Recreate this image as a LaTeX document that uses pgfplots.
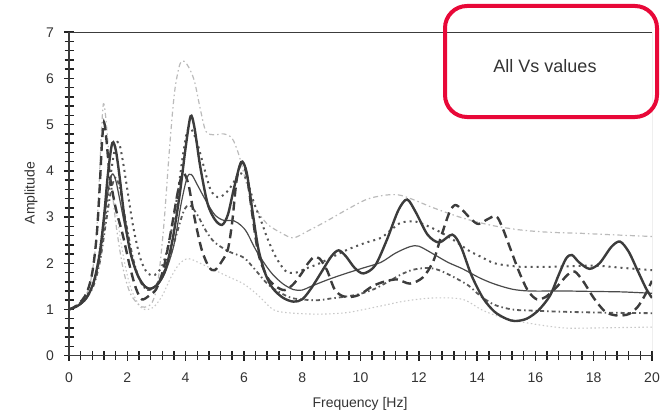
\documentclass[border=0pt]{standalone}
\usepackage{pgfplots}
\pgfplotsset{compat=1.18}
\usepackage{fontspec}
\setmainfont{Liberation Sans}
\definecolor{cthick}{HTML}{3C3C3C}
\definecolor{cthin}{HTML}{4A4A4A}
\definecolor{cdot}{HTML}{555555}
\definecolor{cdd}{HTML}{5A5A5A}
\definecolor{clight}{HTML}{BBBBBB}
\definecolor{clighter}{HTML}{C8C8C8}
\definecolor{cred}{RGB}{232,8,56}
\definecolor{ctext}{HTML}{333333}
\definecolor{ctick}{HTML}{222222}
\begin{document}
\begin{tikzpicture}
\useasboundingbox (0,0) rectangle (660pt,416pt);
\begin{axis}[
  at={(69pt,60.3pt)}, anchor=south west,
  scale only axis, width=583pt, height=323.5pt,
  xmin=0, xmax=20, ymin=0, ymax=7,
  axis x line*=bottom, axis y line*=left,
  axis line style={-, color=cthick, line width=1.3pt},
  xtick={0,2,...,20}, ytick={0,1,...,7},
  minor x tick num=4, minor y tick num=4,
  tick align=center,
  major tick length=10pt, minor tick length=9pt,
  every tick/.style={ctick, line width=1.5pt},
  /pgf/number format/assume math mode=true,
  ticklabel style={font=\fontsize{14}{14}\selectfont, text=ctext},
  xticklabel style={anchor=north, inner sep=0pt, yshift=-12pt},
  yticklabel style={anchor=east, inner sep=0pt, xshift=-10pt},
  every axis plot/.append style={smooth, tension=0.5, no marks},
]
% G: very light dotted
\addplot[clighter, line width=1.1pt, dash pattern=on 1.5pt off 2.5pt] coordinates {
(0,1.0)(0.5,1.2)(0.85,1.6)(1.1,2.6)(1.3,3.4)(1.45,3.6)(1.6,3.2)(1.85,2.2)(2.1,1.5)(2.4,1.1)(2.6,1.0)(2.9,1.05)(3.2,1.3)(3.5,1.7)(3.8,2.0)(4.1,2.1)(4.5,2.0)(5.0,1.85)(5.5,1.7)(6.0,1.55)(6.5,1.3)(7.0,1.0)(7.5,0.93)(8.5,0.9)(9.5,0.93)(10.5,1.05)(11.5,1.18)(12.5,1.25)(13.5,1.22)(14.2,0.98)(15.0,0.8)(16.0,0.68)(17.0,0.6)(18.0,0.6)(20,0.62)};
% F: light dash-dot, high peaks
\addplot[clight, line width=1.2pt, dash pattern=on 5pt off 3pt on 1.5pt off 3pt] coordinates {
(0,1.0)(0.4,1.15)(0.7,1.5)(0.9,2.3)(1.02,3.5)(1.1,4.7)(1.18,5.45)(1.27,5.1)(1.4,4.1)(1.6,2.9)(1.85,1.9)(2.1,1.35)(2.4,1.1)(2.6,1.05)(2.85,1.15)(3.05,1.6)(3.25,2.8)(3.45,4.5)(3.62,5.7)(3.8,6.3)(3.95,6.37)(4.1,6.25)(4.3,5.95)(4.5,5.35)(4.7,4.85)(5.0,4.78)(5.3,4.8)(5.6,4.7)(5.85,4.3)(6.1,3.7)(6.4,3.2)(6.8,2.85)(7.3,2.65)(7.7,2.55)(8.2,2.7)(8.8,2.9)(9.5,3.15)(10.2,3.38)(10.8,3.47)(11.3,3.48)(11.8,3.38)(12.5,3.2)(13.5,2.98)(14.5,2.82)(15.5,2.72)(16.5,2.67)(17.5,2.65)(18.5,2.62)(20,2.58)};
% E: lower dash-dot
\addplot[cdd, line width=1.8pt, dash pattern=on 4pt off 3pt on 1.5pt off 3pt] coordinates {
(0,1.0)(0.4,1.12)(0.8,1.45)(1.05,2.0)(1.25,2.8)(1.45,3.6)(1.6,3.85)(1.75,3.6)(1.95,2.9)(2.2,2.1)(2.45,1.6)(2.7,1.42)(2.95,1.5)(3.2,1.75)(3.45,2.1)(3.7,2.65)(3.95,3.15)(4.15,3.25)(4.4,3.05)(4.7,2.7)(5.0,2.45)(5.5,2.25)(6.0,2.12)(6.4,1.85)(6.8,1.56)(7.2,1.38)(7.7,1.24)(8.5,1.2)(9.0,1.24)(9.5,1.28)(10.0,1.34)(10.5,1.45)(11.0,1.62)(11.4,1.76)(11.8,1.86)(12.3,1.9)(12.7,1.85)(13.2,1.7)(13.7,1.52)(14.1,1.3)(14.6,1.1)(15.2,1.0)(15.7,0.98)(17,0.95)(18.5,0.93)(20,0.92)};
% D: upper dotted
\addplot[cdot, line width=2pt, dash pattern=on 2pt off 4pt] coordinates {
(0,1.0)(0.4,1.15)(0.8,1.5)(1.05,2.1)(1.25,3.0)(1.45,4.0)(1.6,4.55)(1.72,4.6)(1.85,4.2)(2.0,3.6)(2.2,2.8)(2.45,2.1)(2.7,1.78)(2.95,1.75)(3.2,1.95)(3.45,2.5)(3.7,3.4)(3.9,4.3)(4.05,4.85)(4.2,4.9)(4.4,4.6)(4.6,4.15)(4.85,3.6)(5.1,3.43)(5.35,3.5)(5.6,3.7)(5.85,3.95)(6.1,3.8)(6.35,3.3)(6.6,2.9)(6.8,2.55)(7.1,2.13)(7.45,1.82)(7.8,1.8)(8.1,1.88)(8.6,2.0)(9.5,2.28)(10.2,2.45)(10.7,2.55)(11.1,2.75)(11.4,2.88)(11.9,2.9)(12.6,2.72)(13.2,2.5)(13.7,2.28)(14.1,2.15)(14.6,2.0)(15.2,1.94)(15.7,1.92)(17,1.93)(18,1.95)(19,1.9)(20,1.85)};
% C: heavy dashed
\addplot[cthick, line width=2.4pt, dash pattern=on 9pt off 5pt] coordinates {
(0,1.0)(0.3,1.1)(0.6,1.35)(0.8,1.8)(0.95,2.6)(1.05,3.6)(1.13,4.6)(1.2,5.05)(1.28,4.7)(1.4,3.9)(1.6,3.2)(1.85,2.6)(2.1,1.9)(2.3,1.45)(2.5,1.22)(2.75,1.3)(3.0,1.45)(3.25,1.9)(3.5,2.7)(3.75,3.6)(3.92,3.95)(4.1,3.7)(4.3,3.0)(4.55,2.3)(4.8,1.92)(5.0,1.85)(5.25,2.05)(5.45,2.3)(5.6,2.9)(5.75,3.8)(5.92,4.18)(6.1,3.9)(6.3,3.0)(6.5,2.2)(6.8,1.7)(7.1,1.5)(7.4,1.42)(7.7,1.55)(8.0,1.8)(8.2,2.0)(8.4,2.13)(8.6,2.1)(8.85,1.85)(9.1,1.45)(9.35,1.3)(9.66,1.27)(10.0,1.33)(10.4,1.5)(10.8,1.6)(11.25,1.65)(11.7,1.56)(12.15,1.7)(12.5,2.05)(12.75,2.55)(13.05,3.1)(13.25,3.26)(13.5,3.15)(13.8,2.95)(14.05,2.85)(14.35,2.95)(14.65,3.02)(14.85,2.8)(15.15,2.3)(15.45,1.8)(15.75,1.4)(16.05,1.22)(16.35,1.27)(16.75,1.5)(17.1,1.75)(17.35,1.82)(17.65,1.6)(18.0,1.25)(18.4,0.95)(18.8,0.87)(19.2,0.9)(19.5,1.05)(19.75,1.3)(20,1.62)};
% B: thin solid
\addplot[cthin, line width=1.2pt] coordinates {
(0,1.0)(0.3,1.08)(0.6,1.25)(0.85,1.6)(1.05,2.2)(1.2,2.9)(1.35,3.6)(1.48,3.93)(1.6,3.8)(1.75,3.35)(1.95,2.7)(2.2,2.0)(2.45,1.62)(2.75,1.46)(3.05,1.55)(3.3,1.8)(3.6,2.4)(3.85,3.3)(4.05,3.85)(4.2,3.92)(4.4,3.7)(4.7,3.35)(5.0,3.05)(5.3,2.93)(5.65,2.92)(5.9,2.82)(6.1,2.67)(6.4,2.3)(6.7,2.0)(7.0,1.75)(7.35,1.55)(7.7,1.43)(8.0,1.42)(8.3,1.5)(8.9,1.65)(9.5,1.78)(10.1,1.9)(10.7,2.02)(11.2,2.22)(11.7,2.36)(12.0,2.37)(12.5,2.2)(13.0,2.02)(13.5,1.88)(14.1,1.68)(14.6,1.55)(15.2,1.44)(15.8,1.4)(17,1.4)(18,1.39)(19,1.38)(20,1.35)};
% A: thick solid
\addplot[cthick, line width=2.4pt] coordinates {
(0,1.0)(0.3,1.08)(0.6,1.25)(0.85,1.6)(1.05,2.2)(1.2,3.0)(1.33,3.9)(1.45,4.5)(1.52,4.62)(1.62,4.4)(1.75,3.8)(1.9,3.0)(2.1,2.25)(2.35,1.75)(2.6,1.5)(2.8,1.45)(3.05,1.55)(3.3,1.85)(3.55,2.5)(3.8,3.5)(4.0,4.5)(4.17,5.18)(4.3,4.95)(4.5,4.1)(4.75,3.3)(5.0,2.95)(5.25,2.83)(5.45,3.05)(5.65,3.6)(5.85,4.1)(5.95,4.2)(6.1,3.95)(6.3,3.1)(6.5,2.3)(6.75,1.75)(7.0,1.45)(7.35,1.25)(7.7,1.17)(8.0,1.22)(8.3,1.45)(8.7,1.85)(9.0,2.15)(9.25,2.28)(9.5,2.15)(9.8,1.9)(10.1,1.78)(10.5,1.95)(10.9,2.5)(11.3,3.15)(11.6,3.38)(11.9,3.1)(12.3,2.62)(12.7,2.45)(13.15,2.62)(13.45,2.35)(13.8,1.75)(14.2,1.25)(14.6,0.95)(15.0,0.8)(15.3,0.75)(15.7,0.8)(16.1,0.98)(16.5,1.3)(16.8,1.75)(17.05,2.1)(17.25,2.18)(17.5,2.02)(17.85,1.88)(18.2,2.0)(18.6,2.35)(18.9,2.47)(19.2,2.25)(19.5,1.85)(19.8,1.45)(20,1.25)};
\draw[cthick, line width=1.3pt] (rel axis cs:0,1) -- (rel axis cs:1,1);
\draw[gray, line width=0.8pt] (rel axis cs:1,1) -- (rel axis cs:1,0);
\end{axis}
\node[rotate=90, font=\fontsize{14}{14}\selectfont, text=ctext] at (31pt,223pt) {Amplitude};
\node[font=\fontsize{14}{14}\selectfont, text=ctext] at (360pt,12pt) {Frequency [Hz]};
\draw[cred, line width=4pt, rounded corners=22pt] (445pt,410pt) rectangle (657pt,299pt);
\node[font=\fontsize{18}{18}\selectfont, text=ctext] at (545pt,350pt) {All Vs values};
\end{tikzpicture}
\end{document}
